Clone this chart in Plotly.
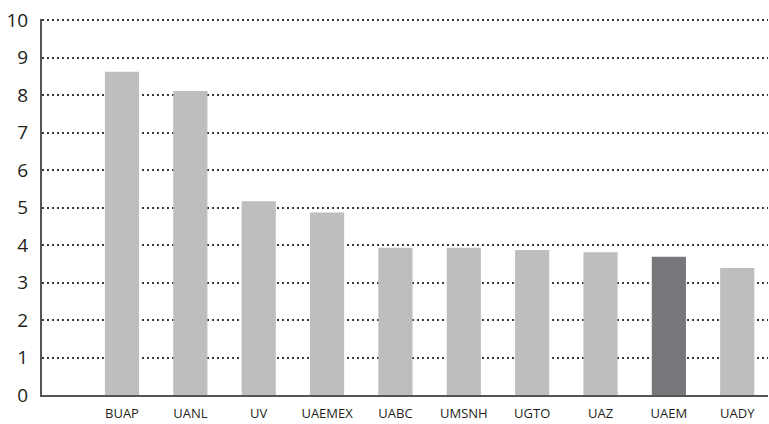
import plotly.graph_objects as go

categories = ["BUAP", "UANL", "UV", "UAEMEX", "UABC", "UMSNH", "UGTO", "UAZ", "UAEM", "UADY"]
values = [8.62, 8.11, 5.17, 4.87, 3.93, 3.93, 3.87, 3.81, 3.69, 3.39]
highlight = "UAEM"
y_ticks = list(range(0, 11))

light = "#BDBEC0"
dark = "#77787B"
colors = [dark if c == highlight else light for c in categories]
xpos = list(range(len(categories)))

fig = go.Figure(go.Bar(
    x=xpos, y=values, width=0.5,
    marker=dict(color=colors, line=dict(width=0)),
))

fig.update_layout(
    width=769, height=424,
    margin=dict(l=42, r=1, t=19, b=29, autoexpand=False),
    paper_bgcolor="white", plot_bgcolor="white",
    showlegend=False,
    font=dict(family="Open Sans, Liberation Sans, sans-serif", color="#231F20"),
)
fig.update_xaxes(
    range=[-1.17, 9.45], tickvals=xpos, ticktext=categories,
    showgrid=False, zeroline=False, automargin=False,
    showline=True, linecolor="#555555", linewidth=2,
    ticks="", tickfont=dict(size=13), ticklabelstandoff=5,
)
fig.update_yaxes(
    range=[0, 10.03], tickvals=y_ticks, automargin=False,
    showgrid=True, gridcolor="#3a3a3a", gridwidth=2, griddash="2px,3px",
    zeroline=False,
    showline=True, linecolor="#555555", linewidth=2,
    ticks="", tickfont=dict(size=19), ticklabelstandoff=8,
)
fig.write_html("out.html", config={"displayModeBar": False},
               post_script="document.body.style.margin='0';")
